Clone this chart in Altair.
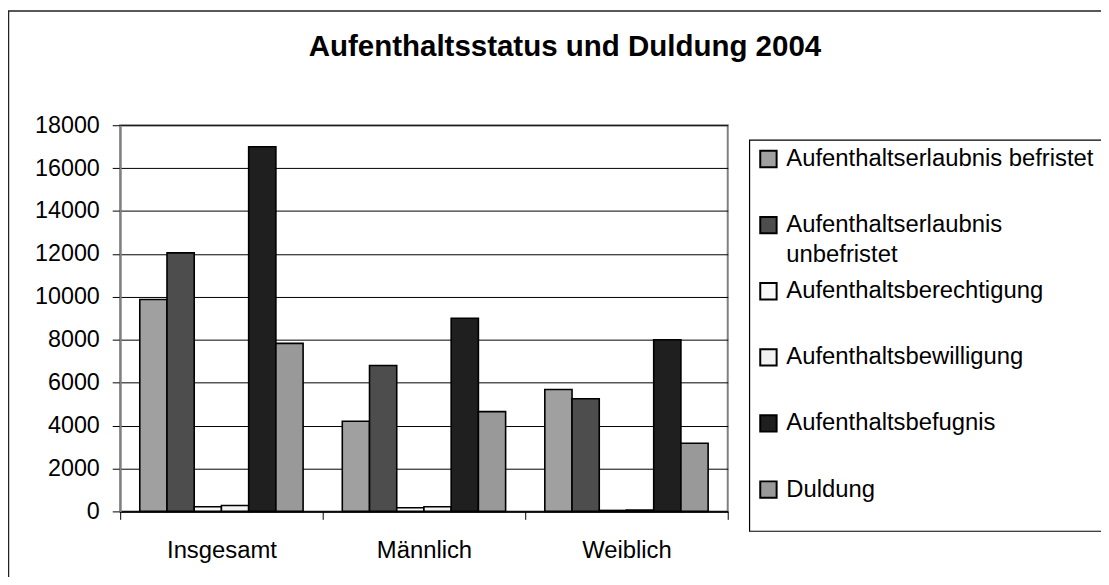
import altair as alt
import pandas as pd

FONT = "Liberation Sans, Arial, sans-serif"

categories = ["Insgesamt", "Männlich", "Weiblich"]
series = [
    "Aufenthaltserlaubnis befristet",
    "Aufenthaltserlaubnis unbefristet",
    "Aufenthaltsberechtigung",
    "Aufenthaltsbewilligung",
    "Aufenthaltsbefugnis",
    "Duldung",
]
erlaubnis_befristet = [9880, 4200, 5680]
erlaubnis_unbefristet = [12050, 6800, 5250]
berechtigung = [215, 170, 45]
bewilligung = [275, 215, 60]
befugnis = [17000, 9000, 8000]
duldung = [7830, 4650, 3180]
colors = ["#A0A0A0", "#4D4D4D", "#F8F8F8", "#F2F2F2", "#1F1F1F", "#999999"]
y_ticks = [0, 2000, 4000, 6000, 8000, 10000, 12000, 14000, 16000, 18000]
title_text = "Aufenthaltsstatus und Duldung 2004"

values_by_series = [erlaubnis_befristet, erlaubnis_unbefristet, berechtigung,
                    bewilligung, befugnis, duldung]
rows = []
for s, vals in zip(series, values_by_series):
    for c, v in zip(categories, vals):
        rows.append({"category": c, "series": s, "value": v})
df = pd.DataFrame(rows)

label_expr = ("datum.label == 'Aufenthaltserlaubnis unbefristet' ? "
              "['Aufenthaltserlaubnis', 'unbefristet'] : datum.label")

bars = alt.Chart(df).mark_bar(stroke="black", strokeWidth=1.6).encode(
    x=alt.X("category:N", sort=categories,
            scale=alt.Scale(paddingInner=0, paddingOuter=0),
            axis=alt.Axis(title=None, labelAngle=0, tickBand="extent", tickSize=8,
                          tickColor="black", domainColor="black", domainWidth=1.5,
                          labelFont=FONT, labelFontSize=24, labelColor="black",
                          labelPadding=19, grid=False)),
    xOffset=alt.XOffset("series:N", sort=series,
                        scale=alt.Scale(paddingInner=0, paddingOuter=0.72)),
    y=alt.Y("value:Q", scale=alt.Scale(domain=[0, 18000], nice=False),
            axis=alt.Axis(title=None, values=y_ticks, format="d", tickSize=8,
                          tickColor="black", domainColor="#808080", domainWidth=2,
                          gridColor="black", gridWidth=1, labelFont=FONT,
                          labelFontSize=23.5, labelColor="black", labelPadding=13)),
    color=alt.Color("series:N", sort=series,
                    scale=alt.Scale(domain=series, range=colors),
                    legend=alt.Legend(orient="none", legendX=641, legendY=22,
                                      direction="vertical", columns=1, title=None,
                                      padding=0, symbolType="square", symbolSize=272,
                                      symbolStrokeColor="black", symbolStrokeWidth=2,
                                      symbolOpacity=1, labelFont=FONT, labelFontSize=24,
                                      labelColor="black", labelOffset=6, labelLimit=600,
                                      labelBaseline="middle", rowPadding=11.6,
                                      gridAlign="all", labelExpr=label_expr)),
)

frame_data = alt.Data(values=[{"k": 1}])
outer_frame = alt.Chart(frame_data).mark_rect(
    fillOpacity=0, stroke="#222222", strokeWidth=1.5
).encode(x=alt.value(-112.5), x2=alt.value(1100), y=alt.value(-115), y2=alt.value(700))

legend_box = alt.Chart(frame_data).mark_rect(
    fillOpacity=0, stroke="black", strokeWidth=1.2
).encode(x=alt.value(634), x2=alt.value(1000), y=alt.value(15), y2=alt.value(409))

chart = alt.layer(outer_frame, legend_box, bars).properties(
    width=612,
    height=389,
    autosize=alt.AutoSizeParams(type="none"),
    padding={"left": 113, "top": 116, "right": 376, "bottom": 64},
    title=alt.Title(title_text, font=FONT, fontSize=29.7, fontWeight="bold",
                    color="black", anchor="middle", frame="group", dx=142,
                    baseline="bottom", offset=0, dy=82),
).configure(
    style={"guide-label": {"lineHeight": 30}},
    background="white",
).configure_view(stroke="#808080", strokeWidth=2)

chart.save("out.html", embed_options={"renderer": "svg", "actions": False})
